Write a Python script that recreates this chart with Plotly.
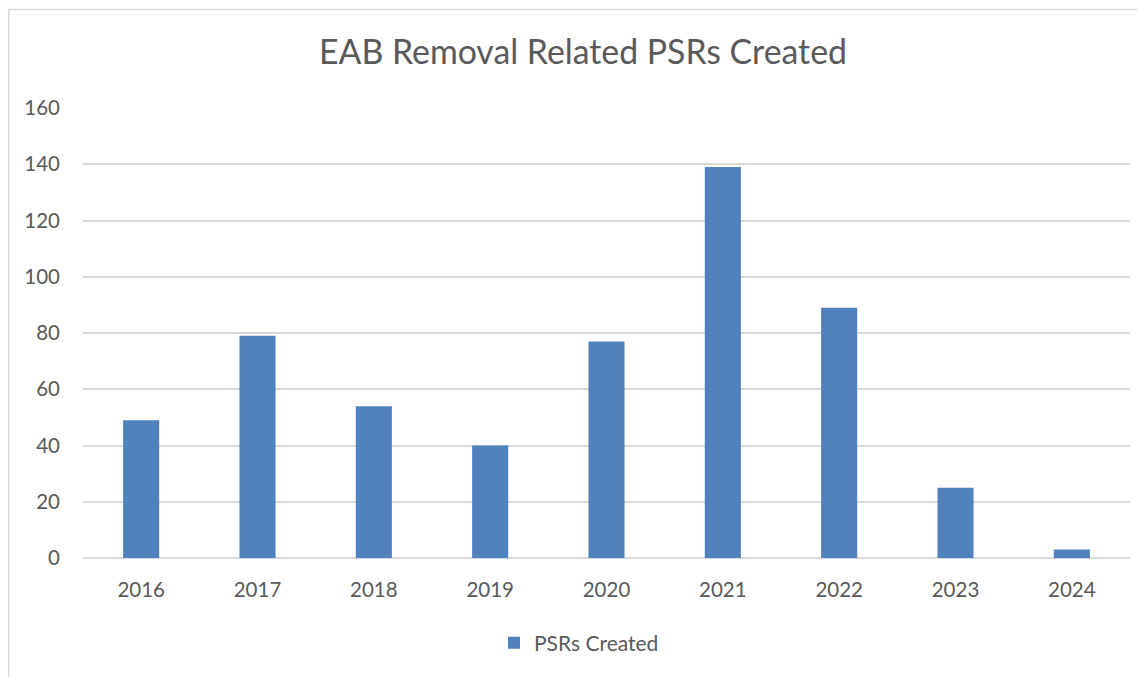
import plotly.graph_objects as go

years = ["2016", "2017", "2018", "2019", "2020", "2021", "2022", "2023", "2024"]
psrs_created = [49, 79, 54, 40, 77, 139, 89, 25, 3]
y_ticks = [0, 20, 40, 60, 80, 100, 120, 140, 160]

FONT = "Lato, 'Open Sans', sans-serif"
GREY = "#595959"
# page body has an 8px margin; figure sized so it fits the 1145x677 window
W, H = 1137, 669
L, R, T, B = 75, 15, 100, 119
pw = W - L - R
ph = H - T - B

fig = go.Figure()
fig.add_trace(go.Bar(
    x=years, y=psrs_created, name="PSRs Created",
    marker=dict(color="#4F81BD", line=dict(width=0)),
))

def px_to_paper_x(px):
    return (px - L) / pw

def px_to_paper_y(py):
    return (H - B - py) / ph

fig.update_layout(
    width=W, height=H,
    margin=dict(l=L, r=R, t=T, b=B),
    paper_bgcolor="white", plot_bgcolor="white",
    font=dict(family=FONT, color=GREY, size=20.5),
    title=dict(text="EAB Removal Related PSRs Created", x=575 / W, xanchor="center",
               y=1 - 44 / H, yanchor="middle", font=dict(size=33.8, color=GREY, family=FONT)),
    bargap=0.69,
    showlegend=True,
    legend=dict(orientation="h", x=px_to_paper_x(486), xanchor="left",
                y=px_to_paper_y(635), yanchor="middle", font=dict(size=21, color=GREY),
                itemwidth=30),
    xaxis=dict(type="category", showgrid=False, showline=False, ticks="",
               tickfont=dict(size=20.5, color=GREY), ticklabelstandoff=17),
    yaxis=dict(range=[0, 160], tickvals=y_ticks, showgrid=True, gridcolor="#D9D9D9",
               gridwidth=1.5, zeroline=True, zerolinecolor="#D9D9D9", zerolinewidth=1.5,
               showline=False, ticks="", tickfont=dict(size=20.5, color=GREY),
               ticklabelstandoff=22),
    shapes=[dict(type="rect", xref="paper", yref="paper",
                 x0=px_to_paper_x(0.75), x1=px_to_paper_x(1160),
                 y0=px_to_paper_y(700), y1=px_to_paper_y(1.5),
                 line=dict(color="#D9D9D9", width=1.5), fillcolor="rgba(0,0,0,0)", layer="below")],
)

fig.write_html("out.html")
